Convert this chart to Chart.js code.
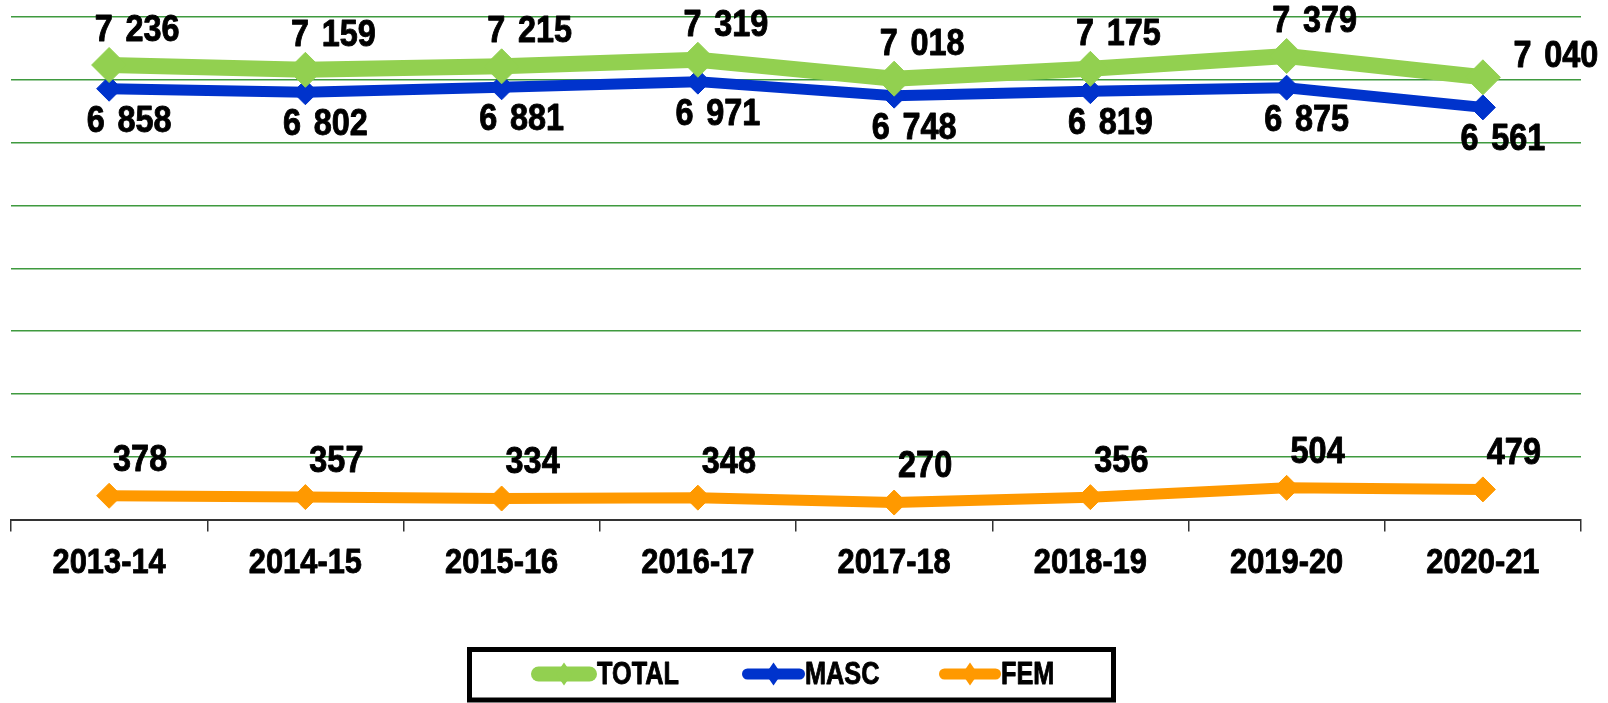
<!DOCTYPE html>
<html>
<head>
<meta charset="utf-8">
<script src="https://cdn.jsdelivr.net/npm/chart.js@4/dist/chart.umd.min.js"></script>
<style>
html,body{margin:0;padding:0;background:#fff;}
#wrap{width:1608px;height:703px;position:relative;}
</style>
</head>
<body>
<div id="wrap"><canvas id="c"></canvas></div>
<script>
const categories = ['2013-14','2014-15','2015-16','2016-17','2017-18','2018-19','2019-20','2020-21'];
const totalValues = [7236, 7159, 7215, 7319, 7018, 7175, 7379, 7040];
const mascValues  = [6858, 6802, 6881, 6971, 6748, 6819, 6875, 6561];
const femValues   = [378, 357, 334, 348, 270, 356, 504, 479];
const seriesNames = ['TOTAL', 'MASC', 'FEM'];

const FONT = '"Liberation Sans", Arial, sans-serif';
const fmt = v => String(v).replace(/\B(?=(\d{3})+(?!\d))/g, ' ');

// draw horizontally condensed, slightly emboldened text
function condText(ctx, text, x, y, size, sx, align, wordGap) {
  ctx.save();
  ctx.translate(x, y);
  ctx.scale(sx, 1);
  ctx.font = 'bold ' + size + 'px ' + FONT;
  ctx.textAlign = align || 'center';
  ctx.textBaseline = 'middle';
  if (wordGap !== undefined && 'wordSpacing' in ctx) ctx.wordSpacing = wordGap + 'px';
  ctx.fillStyle = '#000';
  ctx.strokeStyle = '#000';
  ctx.lineWidth = 0.9;
  ctx.lineJoin = 'round';
  ctx.fillText(text, 0, 0);
  ctx.strokeText(text, 0, 0);
  ctx.restore();
}

const labelPlugin = {
  id: 'valueLabels',
  afterDatasetsDraw(chart) {
    const ctx = chart.ctx;
    const offs = [
      {dx: 28, dy: -34},
      {dx: 20, dy: 33},
      {dx: 31, dy: -35}
    ];
    chart.data.datasets.forEach((ds, di) => {
      const meta = chart.getDatasetMeta(di);
      meta.data.forEach((pt, i) => {
        let dx = offs[di].dx, dy = offs[di].dy;
        if (di === 0 && i === ds.data.length - 1) { dx = 73; dy = -20; }
        condText(ctx, fmt(ds.data[i]), pt.x + dx, pt.y + dy, 36, 0.9, 'center', 4);
      });
    });
    // category labels
    const xs = chart.scales.x;
    chart.data.labels.forEach((lab, i) => {
      condText(ctx, lab, xs.getPixelForTick(i), xs.top + 44, 35, 0.88, 'center');
    });
  }
};

const legendPlugin = {
  id: 'boxLegend',
  afterDraw(chart) {
    const ctx = chart.ctx;
    ctx.save();
    ctx.lineWidth = 5;
    ctx.strokeStyle = '#000';
    ctx.strokeRect(469.5, 649.5, 644, 50.5);
    const cy = 674;
    const items = [
      {sx: 531, ex: 597, tx: 597, lw: 15, r: 11.5},
      {sx: 742, ex: 805, tx: 805, lw: 11, r: 11.5},
      {sx: 939, ex: 1001, tx: 1001, lw: 11, r: 11.5}
    ];
    chart.data.datasets.forEach((ds, i) => {
      const it = items[i];
      ctx.strokeStyle = ds.borderColor;
      ctx.lineWidth = it.lw;
      ctx.lineCap = 'round';
      ctx.beginPath();
      ctx.moveTo(it.sx + it.lw / 2, cy);
      ctx.lineTo(it.ex - it.lw / 2, cy);
      ctx.stroke();
      const mx = (it.sx + it.ex) / 2;
      ctx.fillStyle = ds.borderColor;
      ctx.beginPath();
      ctx.moveTo(mx - 8, cy);
      ctx.lineTo(mx, cy - it.r);
      ctx.lineTo(mx + 8, cy);
      ctx.lineTo(mx, cy + it.r);
      ctx.closePath();
      ctx.fill();
      condText(ctx, ds.label, it.tx, cy + 1, 32, 0.79, 'left');
    });
    ctx.restore();
  }
};

new Chart(document.getElementById('c'), {
  type: 'line',
  data: {
    labels: categories,
    datasets: [
      {label: seriesNames[0], data: totalValues, borderColor: '#92D050', backgroundColor: '#92D050',
       borderWidth: 16, pointStyle: 'rectRot', pointRadius: 17.5, pointBorderWidth: 1, pointHoverRadius: 17.5, tension: 0},
      {label: seriesNames[1], data: mascValues, borderColor: '#0033CC', backgroundColor: '#0033CC',
       borderWidth: 11, pointStyle: 'rectRot', pointRadius: 12.5, pointBorderWidth: 1, pointHoverRadius: 12.5, tension: 0},
      {label: seriesNames[2], data: femValues, borderColor: '#FF9900', backgroundColor: '#FF9900',
       borderWidth: 11, pointStyle: 'rectRot', pointRadius: 12.5, pointBorderWidth: 1, pointHoverRadius: 12.5, tension: 0}
    ]
  },
  options: {
    responsive: true,
    maintainAspectRatio: false,
    animation: false,
    events: [],
    layout: {autoPadding: false, padding: {left: 11, right: 27, top: 17, bottom: 103.5}},
    plugins: {legend: {display: false}, tooltip: {enabled: false}},
    scales: {
      x: {
        offset: true,
        grid: {display: true, drawOnChartArea: false, drawTicks: true, tickLength: 12, offset: true, color: '#333', lineWidth: 1.5},
        border: {display: true, color: '#333', width: 2},
        ticks: {display: false},
        afterFit(scale) { scale.height = 80; }
      },
      y: {
        min: 0, max: 8000,
        ticks: {display: false, stepSize: 1000},
        grid: {color: '#3F9A3F', lineWidth: 1.4, drawTicks: false},
        border: {display: false},
        afterFit(scale) { scale.width = 0; }
      }
    }
  },
  plugins: [labelPlugin, legendPlugin]
});
</script>
</body>
</html>
